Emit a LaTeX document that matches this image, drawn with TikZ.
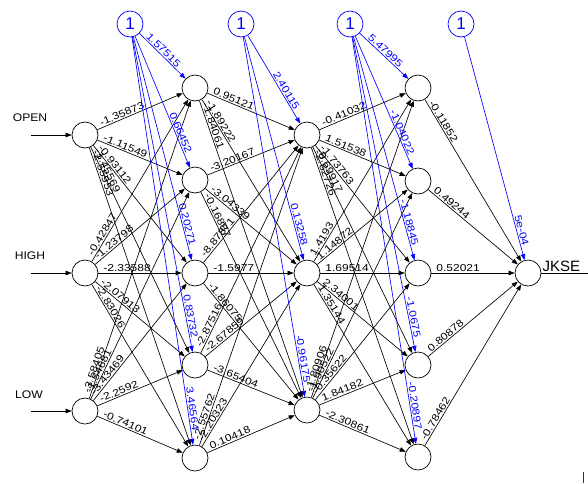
\documentclass[tikz,border=0pt]{standalone}
\usepackage{fontspec}
\setmainfont{Liberation Sans}
\newfontfamily\wfont[FakeStretch=1.2]{Liberation Sans}
\newfontfamily\lfont[FakeStretch=1.1]{Liberation Sans}
\usetikzlibrary{arrows.meta,calc}
\definecolor{nnblue}{RGB}{0,0,255}
\tikzset{
 neuron/.style={circle,draw=black,line width=0.7pt,minimum size=26pt,inner sep=0pt},
 biasnode/.style={circle,draw=nnblue,line width=0.7pt,minimum size=26pt,inner sep=0pt,text=nnblue,font=\fontsize{17}{17}\selectfont},
 wline/.style={draw=black,line width=0.65pt,-{Triangle[length=6pt,width=4.5pt]}},
 bline/.style={draw=nnblue,line width=0.65pt,-{Triangle[length=6pt,width=4.5pt]}},
 wlab/.style={font=\wfont\fontsize{10}{10}\selectfont,text=black,inner sep=1.2pt},
 blab/.style={font=\wfont\fontsize{10}{10}\selectfont,text=nnblue,inner sep=1.2pt},
 inlab/.style={font=\lfont\fontsize{11}{11}\selectfont,inner sep=0pt},
 outlab/.style={font=\fontsize{15}{15}\selectfont,inner sep=1pt},
}
\newcommand\nnW[3]{\draw[wline] (#1) -- (#2); \path ($(#1)!17pt!(#2)$) -- (#2) node[pos=0,sloped,anchor=south west,wlab]{#3};}
\newcommand\nnB[3]{\draw[bline] (#1) -- (#2); \path (#1) -- ($(#2)!26pt!(#1)$) node[pos=1,sloped,anchor=south east,blab]{#3};}
\begin{document}
\begin{tikzpicture}[x=1pt,y=-1pt]
\useasboundingbox (0,0) rectangle (588,483);
% bias nodes
\node[biasnode] (b1) at (130,24) {1};
\node[biasnode] (b2) at (241,24) {1};
\node[biasnode] (b3) at (350,24) {1};
\node[biasnode] (b4) at (461,24) {1};
% inputs
\node[neuron] (i1) at (85,135) {};
\node[neuron] (i2) at (85,273) {};
\node[neuron] (i3) at (85,411) {};
% hidden 1
\node[neuron] (h1) at (195,88) {};
\node[neuron] (h2) at (195,180) {};
\node[neuron] (h3) at (195,273) {};
\node[neuron] (h4) at (195,365) {};
\node[neuron] (h5) at (195,458) {};
% hidden 2
\node[neuron] (g1) at (307,135) {};
\node[neuron] (g2) at (307,273) {};
\node[neuron] (g3) at (307,410) {};
% hidden 3
\node[neuron] (k1) at (418,88) {};
\node[neuron] (k2) at (418,181) {};
\node[neuron] (k3) at (418,273) {};
\node[neuron] (k4) at (418,365) {};
\node[neuron] (k5) at (418,457) {};
% output
\node[neuron] (o) at (528,273) {};
% input labels and arrows
\node[inlab] (lopen) at (30,118) {OPEN};
\node[inlab] (lhigh) at (30,256) {HIGH};
\node[inlab] (llow) at (29,395) {LOW};
\coordinate (s1) at (31,135);
\coordinate (s2) at (31,273);
\coordinate (s3) at (31,411);
\draw[wline] (s1) -- (i1);
\draw[wline] (s2) -- (i2);
\draw[wline] (s3) -- (i3);
% output line and label
\coordinate (oe) at (588,273);
\draw[line width=0.65pt] (o) -- (oe);
\node[outlab,anchor=south west] (ljkse) at (541.5,272.5) {JKSE};
\coordinate (m1) at (583,472);
\coordinate (m2) at (583,483);
\draw[line width=0.8pt,black!80] (m1) -- (m2);
% input -> hidden 1
\nnW{i1}{h1}{-1.35873}
\nnW{i1}{h2}{-1.11549}
\nnW{i1}{h3}{-0.93112}
\nnW{i1}{h4}{-1.45569}
\nnW{i1}{h5}{-2.55953}
\nnW{i2}{h1}{-0.42847}
\nnW{i2}{h2}{-1.23798}
\nnW{i2}{h3}{-2.33588}
\nnW{i2}{h4}{-2.07913}
\nnW{i2}{h5}{-2.83026}
\nnW{i3}{h1}{-3.58405}
\nnW{i3}{h2}{-1.54681}
\nnW{i3}{h3}{-3.43469}
\nnW{i3}{h4}{-2.2592}
\nnW{i3}{h5}{-0.74101}
\nnB{b1}{h1}{1.57515}
\nnB{b1}{h2}{0.66452}
\nnB{b1}{h3}{0.20271}
\nnB{b1}{h4}{0.83732}
\nnB{b1}{h5}{3.46564}
% hidden 1 -> hidden 2
\nnW{h1}{g1}{0.95121}
\nnW{h1}{g2}{-1.89222}
\nnW{h1}{g3}{-1.84061}
\nnW{h2}{g1}{-3.20167}
\nnW{h2}{g2}{-3.04339}
\nnW{h2}{g3}{-0.16887}
\nnW{h3}{g1}{-8.87871}
\nnW{h3}{g2}{-1.5977}
\nnW{h3}{g3}{-1.86075}
\nnW{h4}{g1}{-2.87516}
\nnW{h4}{g2}{-2.67859}
\nnW{h4}{g3}{-3.65404}
\nnW{h5}{g1}{-2.55762}
\nnW{h5}{g2}{-2.20323}
\nnW{h5}{g3}{0.10418}
\nnB{b2}{g1}{2.40115}
\nnB{b2}{g2}{0.13258}
\nnB{b2}{g3}{-0.96175}
% hidden 2 -> hidden 3
\nnW{g1}{k1}{-0.41032}
\nnW{g1}{k2}{1.51538}
\nnW{g1}{k3}{-1.73763}
\nnW{g1}{k4}{-0.69917}
\nnW{g1}{k5}{-2.62726}
\nnW{g2}{k1}{1.4193}
\nnW{g2}{k2}{1.14872}
\nnW{g2}{k3}{1.69514}
\nnW{g2}{k4}{2.34001}
\nnW{g2}{k5}{1.35144}
\nnW{g3}{k1}{-1.80906}
\nnW{g3}{k2}{-1.90522}
\nnW{g3}{k3}{-0.35622}
\nnW{g3}{k4}{1.84182}
\nnW{g3}{k5}{-2.30861}
\nnB{b3}{k1}{5.47995}
\nnB{b3}{k2}{-1.04022}
\nnB{b3}{k3}{-1.18845}
\nnB{b3}{k4}{-1.0675}
\nnB{b3}{k5}{-0.20897}
% hidden 3 -> output
\nnW{k1}{o}{-0.11852}
\nnW{k2}{o}{0.49244}
\nnW{k3}{o}{0.52021}
\nnW{k4}{o}{0.80878}
\nnW{k5}{o}{-0.78462}
\nnB{b4}{o}{5e-04}
\end{tikzpicture}
\end{document}
